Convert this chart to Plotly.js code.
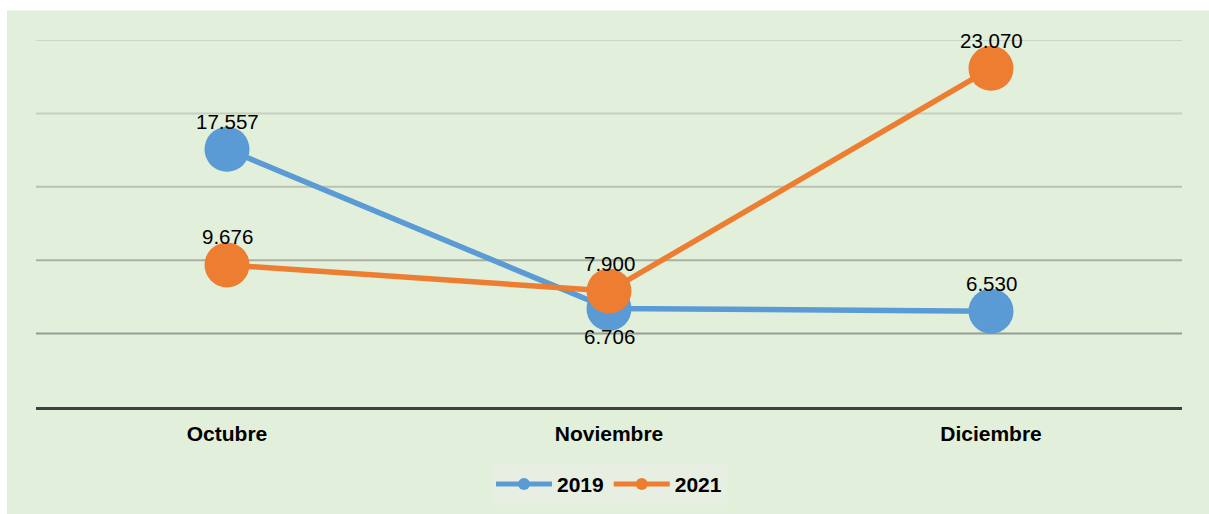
<!DOCTYPE html>
<html>
<head>
<meta charset="utf-8">
<script src="https://cdn.plot.ly/plotly-3.0.1.min.js"></script>
<style>html,body{margin:0;padding:0;background:#fff;}#chart{width:1209px;height:514px;}</style>
</head>
<body>
<div id="chart"></div>
<script>
const categories = ['Octubre', 'Noviembre', 'Diciembre'];
const seriesNames = ['2019', '2021'];
const values2019 = [17557, 6706, 6530];
const values2021 = [9676, 7900, 23070];
const labelSide2019 = [1, -1, 1];
const labelSide2021 = [1, 1, 1];
const gridValues = [5000, 10000, 15000, 20000, 25000];
const gridColors = ['#969e93', '#a8b0a4', '#b9c2b3', '#c6d0c0', '#ccd6c7'];

const colors = ['#5b9bd5', '#ed7d31'];
const FONT = 'Liberation Sans, Arial, Helvetica, sans-serif';

function fmt(v) {
  return String(v).replace(/\B(?=(\d{3})+(?!\d))/g, '.');
}

const traces = [values2019, values2021].map((vals, i) => ({
  type: 'scatter',
  mode: 'lines+markers',
  name: seriesNames[i],
  x: categories,
  y: vals,
  line: {color: colors[i], width: 5.5},
  marker: {color: colors[i], size: 45},
  hoverinfo: 'skip'
}));

const annotations = [];
[[values2019, labelSide2019], [values2021, labelSide2021]].forEach(([vals, sides]) => {
  vals.forEach((v, j) => {
    annotations.push({
      x: categories[j], y: v, xref: 'x', yref: 'y',
      text: fmt(v), showarrow: false,
      yshift: 28 * sides[j],
      font: {family: FONT, size: 20.5, color: '#000'}
    });
  });
});

const shapes = [{
  type: 'rect', xref: 'paper', yref: 'paper', layer: 'below',
  x0: -0.0253, x1: 1.03, y0: -0.30, y1: 1.0803,
  fillcolor: '#e2efda', line: {width: 0}
}];
gridValues.forEach((g, i) => {
  shapes.push({
    type: 'line', xref: 'paper', yref: 'y', layer: 'below',
    x0: 0, x1: 1, y0: g, y1: g,
    line: {color: gridColors[i], width: 2}
  });
});

const layout = {
  width: 1209, height: 514,
  margin: {l: 36, r: 27, t: 39.5, b: 107, pad: 0, autoexpand: false},
  paper_bgcolor: '#ffffff',
  plot_bgcolor: 'rgba(0,0,0,0)',
  showlegend: true,
  legend: {
    orientation: 'h', x: 0.5, xanchor: 'center', y: -0.155, yanchor: 'top',
    bgcolor: '#e7eee2', borderwidth: 0,
    font: {family: FONT, size: 21, color: '#000', weight: 'bold'},
    itemwidth: 56, itemsizing: 'constant'
  },
  xaxis: {
    type: 'category', range: [-0.5, 2.5], automargin: false,
    showline: true, linecolor: '#404040', linewidth: 2.5,
    showgrid: false, zeroline: false, ticks: '',
    ticklabelstandoff: 6,
    tickfont: {family: FONT, size: 21, color: '#000', weight: 'bold'}
  },
  yaxis: {
    range: [0, 25000], showgrid: false, zeroline: false, automargin: false,
    showticklabels: false, ticks: '', showline: false
  },
  shapes: shapes,
  annotations: annotations
};

Plotly.newPlot('chart', traces, layout, {displayModeBar: false, staticPlot: true});
</script>
</body>
</html>
